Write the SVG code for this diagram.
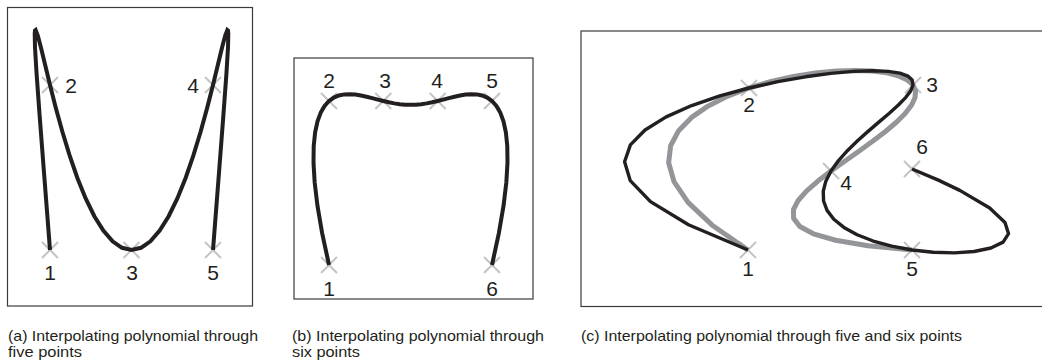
<svg xmlns="http://www.w3.org/2000/svg" width="1042" height="364" viewBox="0 0 1042 364">
<style>
.frame{fill:none;stroke:#3a3a3a;stroke-width:1.2}
.cross{fill:none;stroke:#c4c4c4;stroke-width:2}
.curve{fill:none;stroke:#231f20;stroke-width:4;stroke-linejoin:miter;stroke-miterlimit:12;stroke-linecap:butt}
.thin{stroke-width:3.4;stroke-linejoin:round}
.grey{fill:none;stroke:#939598;stroke-width:5;stroke-linejoin:round}
.num{font-family:"Liberation Sans",Arial,sans-serif;font-size:21px;fill:#231f20;text-anchor:middle}
.cap{font-family:"Liberation Sans",Arial,sans-serif;font-size:15px;fill:#231f20}
</style>
<defs>
<path id="x" d="M-8,-8L8,8M-8,8L8,-8"/>
</defs>

<g id="panel-a">
<rect class="frame" x="7.5" y="7.5" width="245" height="298.5"/>
<g class="cross">
<use href="#x" x="50" y="250"/><use href="#x" x="50" y="85"/><use href="#x" x="131.5" y="250"/><use href="#x" x="213" y="85"/><use href="#x" x="213" y="250"/>
</g>
<polyline class="curve" points="50,250 44,172.57 39.56,114.57 36.58,73.57 34.99,47.25 34.71,33.44 35.03,30.58 35.65,30.09 37.73,35.29 40.87,47.25 44.99,64.33 50,85 55.83,107.89 62.39,131.73 69.6,155.41 77.38,177.93 85.66,198.44 94.34,216.21 103.34,230.65 112.59,241.29 122,247.8 131.5,250 141,247.8 150.41,241.29 159.66,230.65 168.66,216.21 177.34,198.44 185.62,177.93 193.4,155.41 200.61,131.73 207.17,107.89 213,85 218.01,64.33 222.13,47.25 225.27,35.29 227.35,30.09 227.97,30.58 228.29,33.44 228.01,47.25 226.42,73.57 223.44,114.57 219,172.57 213,250"/>
<text class="num" x="50" y="280">1</text>
<text class="num" x="71" y="93">2</text>
<text class="num" x="132" y="280">3</text>
<text class="num" x="193" y="93">4</text>
<text class="num" x="213" y="280">5</text>
</g>

<g id="panel-b">
<rect class="frame" x="294" y="58" width="239" height="241"/>
<g class="cross">
<use href="#x" x="329" y="265"/><use href="#x" x="329" y="101"/><use href="#x" x="383.3" y="101"/><use href="#x" x="437.7" y="101"/><use href="#x" x="492" y="101"/><use href="#x" x="492" y="265"/>
</g>
<polyline class="curve" points="329.01,265 322.14,233.15 317.45,205.69 314.65,182.23 313.5,162.4 313.73,145.84 315.13,132.22 317.53,121.23 320.74,112.55 324.61,105.89 329,101 333.81,97.61 338.92,95.49 344.25,94.41 349.74,94.18 355.32,94.59 360.94,95.49 366.58,96.71 372.2,98.11 377.79,99.58 383.33,101 388.84,102.29 394.29,103.36 399.72,104.17 405.12,104.67 410.5,104.84 415.88,104.67 421.28,104.17 426.71,103.36 432.16,102.29 437.67,101 443.21,99.58 448.8,98.11 454.42,96.71 460.06,95.49 465.68,94.59 471.26,94.18 476.75,94.41 482.08,95.49 487.19,97.61 492,101 496.39,105.89 500.26,112.55 503.47,121.23 505.87,132.22 507.27,145.84 507.5,162.4 506.35,182.23 503.55,205.69 498.86,233.15 491.99,265"/>
<text class="num" x="329" y="296">1</text>
<text class="num" x="329" y="88">2</text>
<text class="num" x="385" y="88">3</text>
<text class="num" x="437" y="88">4</text>
<text class="num" x="492" y="88">5</text>
<text class="num" x="492" y="296">6</text>
</g>

<g id="panel-c">
<rect class="frame" x="581" y="31" width="470" height="275.5"/>
<g class="cross">
<use href="#x" x="748" y="250"/><use href="#x" x="749" y="88"/><use href="#x" x="913" y="85"/><use href="#x" x="831" y="171"/><use href="#x" x="912" y="250"/><use href="#x" x="912" y="169"/>
</g>
<polyline class="grey" points="748,250 712.21,225.19 688.04,202.39 674,181.58 668.64,162.72 670.61,145.77 678.65,130.67 691.57,117.4 708.28,105.9 727.73,96.12 749,88 771.23,81.5 793.63,76.55 815.51,73.09 836.27,71.06 855.36,70.39 872.34,71.02 886.84,72.87 898.57,75.87 907.33,79.94 913,85 915.53,90.98 914.97,97.78 911.44,105.32 905.14,113.51 896.36,122.27 885.47,131.48 872.91,141.06 859.23,150.91 845.02,160.93 831,171 817.93,181.02 806.68,190.89 798.17,200.48 793.45,209.69 793.61,218.39 799.84,226.47 813.4,233.79 835.64,240.24 868.01,245.69 912,250"/>
<polyline class="curve thin" points="748,250 688.5,224.69 650.48,201.6 630.28,180.66 624.58,161.79 630.39,144.92 645.04,129.96 666.17,116.87 691.71,105.55 719.83,95.95 749,88 777.92,81.64 805.49,76.8 830.87,73.41 853.4,71.42 872.6,70.75 888.16,71.35 899.93,73.15 907.89,76.07 912.17,80.04 913,85 910.69,90.88 905.65,97.58 898.36,105.04 889.32,113.18 879.12,121.91 868.34,131.12 857.55,140.74 847.37,150.66 838.33,160.79 831,171 825.83,181.19 823.25,191.24 823.57,201.02 827.06,210.4 833.83,219.24 843.9,227.4 857.12,234.71 873.2,241.03 891.72,246.19 912,250 933.23,252.28 954.35,252.85 974.09,251.49 990.93,247.99 1003.11,242.14 1008.56,233.69 1004.97,222.42 989.7,208.05 959.8,190.34 938.36,180.14 912,169"/>
<text class="num" x="748" y="276">1</text>
<text class="num" x="749" y="112">2</text>
<text class="num" x="932" y="92">3</text>
<text class="num" x="846" y="190">4</text>
<text class="num" x="912" y="276">5</text>
<text class="num" x="922" y="154">6</text>
</g>

<g id="captions">
<text class="cap" x="8" y="341" textLength="250" lengthAdjust="spacingAndGlyphs">(a) Interpolating polynomial through</text>
<text class="cap" x="8" y="357" textLength="74" lengthAdjust="spacingAndGlyphs">five points</text>
<text class="cap" x="292" y="341" textLength="252" lengthAdjust="spacingAndGlyphs">(b) Interpolating polynomial through</text>
<text class="cap" x="292" y="357" textLength="68" lengthAdjust="spacingAndGlyphs">six points</text>
<text class="cap" x="581" y="341" textLength="381" lengthAdjust="spacingAndGlyphs">(c) Interpolating polynomial through five and six points</text>
</g>
</svg>
